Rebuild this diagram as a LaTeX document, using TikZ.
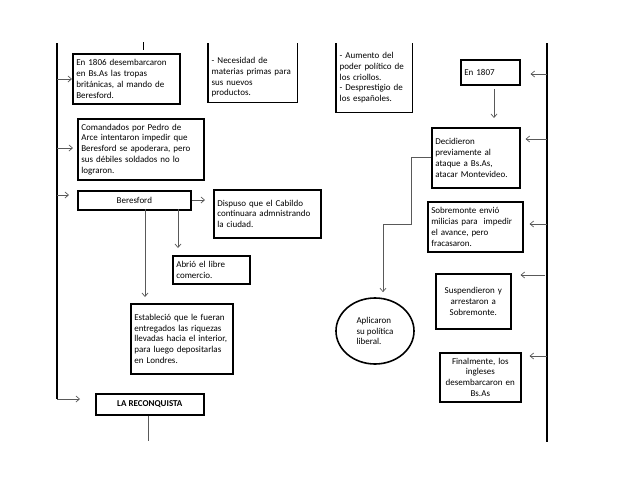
\documentclass[tikz,border=0pt]{standalone}
\usepackage{fontspec}
\setmainfont{Carlito}
\usetikzlibrary{arrows.meta,shapes.geometric}
\begin{document}
\begin{tikzpicture}[x=1pt,y=-1pt,
  every node/.style={font=\fontsize{9}{10.8}\selectfont},
  box/.style={draw=black,line width=1.6pt,anchor=north west,inner xsep=3.5pt,inner ysep=3pt,align=left},
  obox/.style={anchor=north west,inner xsep=3.5pt,inner ysep=3pt,align=left},
  arr/.style={draw=black!65,line width=0.7pt,-{Straight Barb[length=3.5pt,width=6pt]}},
  mainline/.style={draw=black,line width=1.1pt},
  ln/.style={draw=black!65,line width=0.7pt}]
\useasboundingbox (0,0) rectangle (638,493);
\fill[white] (0,0) rectangle (638,493);

% left main line
\coordinate (Ltop) at (57,43);
\coordinate (Lbot) at (57,399);
\draw[mainline] (Ltop) -- (Lbot);

% left column
\node[box,minimum width=107pt,minimum height=50pt,text width=100pt] (b1806) at (72,53)
  {En 1806 desembarcaron\\en Bs.As las tropas\\británicas, al mando de\\Beresford.};
\node[obox,minimum width=89pt,minimum height=50pt,text width=82pt] (nec) at (208,52)
  {- Necesidad de\\materias primas para\\sus nuevos\\productos.};
\draw[line width=1.6pt] (nec.south west |- Ltop) -- (nec.south west) -- (nec.south east) -- (nec.south east |- Ltop);
\node[obox,minimum width=76pt,minimum height=69pt,text width=69pt] (aum) at (336,43)
  {- Aumento del\\poder político de\\los criollos.\\- Desprestigio de\\los españoles.};
\draw[line width=1.6pt] (aum.north west) -- (aum.south west) -- (aum.south east) -- (aum.north east);
\node[box,minimum width=126pt,minimum height=61pt,text width=119pt] (coma) at (77,118)
  {Comandados por Pedro de\\Arce intentaron impedir que\\Beresford se apoderara, pero\\sus débiles soldados no lo\\lograron.};
\node[box,minimum width=113pt,minimum height=19pt,align=center,inner sep=1pt] (beres) at (77,190) {Beresford};
\node[box,minimum width=107pt,minimum height=48pt,text width=100pt] (disp) at (213,189)
  {Dispuso que el Cabildo\\continuara admnistrando\\la ciudad.};
\node[box,minimum width=77pt,minimum height=28pt,text width=70pt] (abrio) at (172,255)
  {Abrió el libre\\comercio.};
\node[box,minimum width=102pt,minimum height=70pt,text width=95pt] (estab) at (130,303)
  {Estableció que le fueran\\entregados las riquezas\\llevadas hacia el interior,\\para luego depositarlas\\en Londres.};
\node[box,minimum width=108pt,minimum height=21pt,align=center,inner sep=1pt,font=\fontsize{9}{10.8}\selectfont\bfseries] (recon) at (95,393) {LA RECONQUISTA};

\draw[arr] (Lbot) -- ([xshift=-15pt]recon.west |- Lbot);
\coordinate (L1) at (57,79);
\coordinate (L2) at (57,148);
\coordinate (L3) at (57,195);
\draw[arr] (L1) -- (b1806.west |- L1);
\draw[arr] (L2) -- ([xshift=-4pt]coma.west |- L2);
\draw[arr] (L3) -- ([xshift=-8pt]beres.west |- L3);
\coordinate (stubT) at (143,42);
\coordinate (stubB) at (143,50);
\draw[line width=0.8pt] (stubT) -- (stubB);

\coordinate (B0) at (0,200);
\draw[arr] (beres.east |- B0) -- ([xshift=-8pt]disp.west |- B0);
\coordinate (A1) at (178,209);
\coordinate (A2) at (145,209);
\draw[arr] (A1) -- ([yshift=7pt]A1 |- abrio.north);
\draw[arr] (A2) -- ([yshift=6pt]A2 |- estab.north);
\coordinate (R0) at (148,414);
\coordinate (R1) at (148,441);
\draw[ln] (recon.south -| R0) -- (R1);

% right column
\coordinate (Rtop) at (547,43);
\coordinate (Rbot) at (547,442);
\draw[mainline] (Rtop) -- (Rbot);
\node[box,minimum width=59pt,minimum height=25pt,text width=52pt] (e1807) at (460,59) {En 1807};
\node[box,minimum width=88pt,minimum height=60pt,text width=81pt] (decid) at (431,127)
  {Decidieron\\previamente al\\ataque a Bs.As,\\atacar Montevideo.};
\node[box,minimum width=95pt,minimum height=50pt,text width=88pt] (sobre) at (427,201)
  {Sobremonte envió\\milicias para \ impedir\\el avance, pero\\fracasaron.};
\node[box,minimum width=75pt,minimum height=55pt,text width=68pt,align=center] (susp) at (435,273)
  {Suspendieron y\\arrestaron a\\Sobremonte.};
\node[box,minimum width=81pt,minimum height=49pt,text width=77pt,align=center,inner xsep=2pt] (final) at (439,352)
  {Finalmente, los\\ingleses\\desembarcaron en\\Bs.As};
\node[draw=black,line width=1.6pt,ellipse,minimum width=78pt,minimum height=66pt,inner sep=0pt,align=left] (aplic) at (375,331)
  {Aplicaron\\su política\\liberal.};

\coordinate (r1) at (547,74);
\coordinate (r2) at (547,139);
\coordinate (r3) at (547,224);
\coordinate (r4) at (545,275);
\coordinate (r5) at (547,356);
\draw[arr] (r1) -- ([xshift=10pt]e1807.east |- r1);
\draw[arr] (r2) -- ([xshift=5pt]decid.east |- r2);
\draw[arr] (r3) -- ([xshift=6pt]sobre.east |- r3);
\draw[arr] (r4) -- ([xshift=9pt]susp.east |- r4);
\draw[arr] (r5) -- ([xshift=8pt]final.east |- r5);
\coordinate (d1) at (494,89);
\draw[arr] (d1) -- ([yshift=9pt]d1 |- decid.north);
\coordinate (k1) at (411,224);
\coordinate (k2) at (383,224);
\draw[arr] (decid.west) -| (k1) -- (k2) -- ([yshift=5pt]k2 |- aplic.north);
\end{tikzpicture}
\end{document}
